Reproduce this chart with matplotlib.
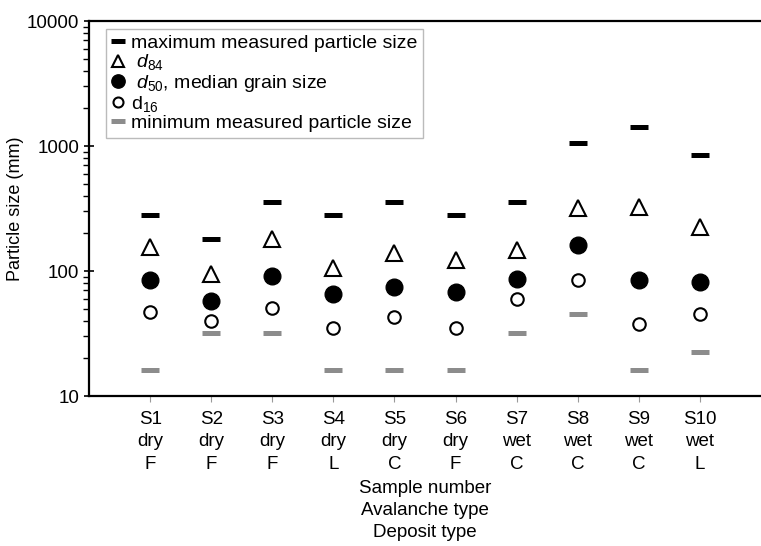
import numpy as np
import matplotlib
matplotlib.use('Agg')
from matplotlib import pyplot as plt
from matplotlib.ticker import LogLocator, NullFormatter

samples=['S1','S2','S3','S4','S5','S6','S7','S8','S9','S10']
avalanche=['dry','dry','dry','dry','dry','dry','wet','wet','wet','wet']
deposit=['F','F','F','L','C','F','C','C','C','L']
d_max=[283,181,355,283,355,283,355,1060,1410,855]
d84=[157,94,181,106,139,123,146,321,328,224]
d50=[84,58,92,65,74,68,87,162,85,82]
d16=[46.6,40,51,34.7,43,34.7,60,85,38,45.7]
d_min=[16,32,32,16,16,16,32,45,16,22.7]

plt.rcParams['font.family']=['Liberation Sans','DejaVu Sans']
plt.rcParams['mathtext.fontset']='custom'
plt.rcParams['mathtext.rm']='Liberation Sans'
plt.rcParams['mathtext.it']='Liberation Sans:italic'
plt.rcParams['font.size']=13.5

fig=plt.figure(figsize=(7.61,5.46),dpi=100)
ax=fig.add_axes([0.117,0.2747,0.883,0.6868])
x=np.arange(1,len(samples)+1)

ax.plot(x,d_max,ls='none',marker='_',ms=13,mew=3.6,color='black',label='maximum measured particle size')
ax.plot(x,d84,ls='none',marker='^',ms=11,mfc='white',mec='black',mew=1.5,label=r' $\mathit{d}_{84}$')
ax.plot(x,d50,ls='none',marker='o',ms=12,color='black',label=r' $\mathit{d}_{50}$, median grain size')
ax.plot(x,d16,ls='none',marker='o',ms=9,mfc='white',mec='black',mew=1.5,label=r'd$_{16}$')
ax.plot(x,d_min,ls='none',marker='_',ms=13,mew=3.6,color='#8c8c8c',label='minimum measured particle size')

ax.set_yscale('log')
ax.set_ylim(10,10000)
ax.set_xlim(0,11)
ax.yaxis.set_minor_locator(LogLocator(base=10,subs=np.arange(2,10),numticks=10))
ax.yaxis.set_minor_formatter(NullFormatter())
ax.set_yticks([10,100,1000,10000])
ax.set_yticklabels(['10','100','1000','10000'])
ax.set_xticks(x)
ax.set_xticklabels([s+'\n'+a+'\n'+d for s,a,d in zip(samples,avalanche,deposit)],linespacing=1.4)
ax.tick_params(axis='y',which='major',direction='inout',length=7,width=1.2)
ax.tick_params(axis='y',which='minor',direction='out',length=4,width=1)
ax.tick_params(axis='x',which='major',direction='out',length=4,width=0.8,color='#999999',pad=7)
ax.spines['right'].set_visible(False)
for s in ['left','bottom','top']:
    ax.spines[s].set_linewidth(1.6)
ax.set_ylabel('Particle size (mm)',fontsize=13,labelpad=2)
ax.set_xlabel('Sample number\nAvalanche type\nDeposit type',linespacing=1.4,labelpad=5)

leg=ax.legend(loc='upper left',bbox_to_anchor=(0.019,0.99),fontsize=14,frameon=True,fancybox=False,
    markerscale=0.8,handlelength=0.7,handletextpad=0.3,labelspacing=0.02,borderpad=0.3,borderaxespad=0.2)
leg.get_frame().set_edgecolor('#aaaaaa')
leg.get_frame().set_linewidth(1.0)

fig.savefig('out.png',dpi=100)
